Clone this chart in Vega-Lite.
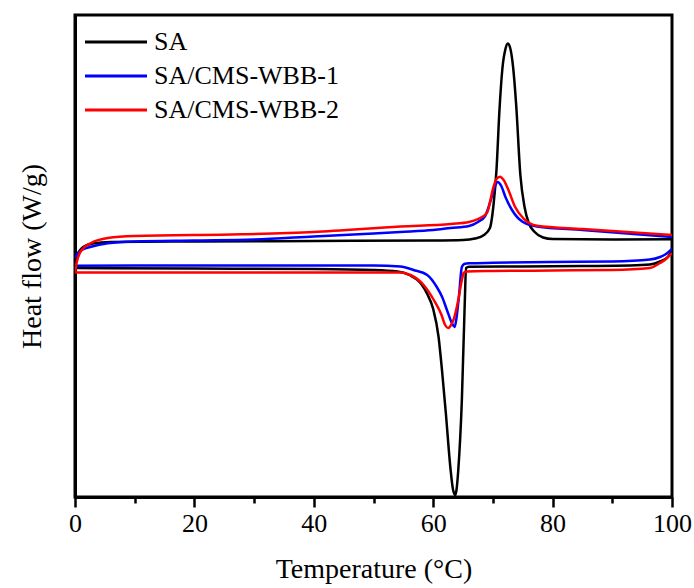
{
  "$schema": "https://vega.github.io/schema/vega-lite/v6.json",
  "width": 597,
  "height": 482,
  "autosize": {"type": "none"},
  "padding": {"left": 75, "top": 15, "right": 22, "bottom": 91},
  "config": {
    "font": "Liberation Serif",
    "view": {"stroke": "#000000", "strokeWidth": 3},
    "axis": {"grid": false}
  },
  "data": {"values": [
    {"s":"SA","b":"h","T":0,"H":230},{"s":"SA","b":"h","T":0.3,"H":240},{"s":"SA","b":"h","T":0.8,"H":246.5},{"s":"SA","b":"h","T":1.5,"H":250.5},{"s":"SA","b":"h","T":3,"H":253.5},{"s":"SA","b":"h","T":6,"H":255},{"s":"SA","b":"h","T":20,"H":255.5},{"s":"SA","b":"h","T":40,"H":256},{"s":"SA","b":"h","T":60,"H":256.5},{"s":"SA","b":"h","T":65,"H":257},{"s":"SA","b":"h","T":67,"H":258.5},{"s":"SA","b":"h","T":68.5,"H":262},{"s":"SA","b":"h","T":69.5,"H":269},{"s":"SA","b":"h","T":70.1,"H":292},{"s":"SA","b":"h","T":70.6,"H":327},{"s":"SA","b":"h","T":71.1,"H":387},{"s":"SA","b":"h","T":71.6,"H":429},{"s":"SA","b":"h","T":72.1,"H":448},{"s":"SA","b":"h","T":72.5,"H":453.5},{"s":"SA","b":"h","T":72.9,"H":449},{"s":"SA","b":"h","T":73.4,"H":429},{"s":"SA","b":"h","T":73.9,"H":392},{"s":"SA","b":"h","T":74.6,"H":322},{"s":"SA","b":"h","T":75.3,"H":290},{"s":"SA","b":"h","T":76,"H":274},{"s":"SA","b":"h","T":77,"H":265},{"s":"SA","b":"h","T":78.4,"H":259.5},{"s":"SA","b":"h","T":80,"H":258},{"s":"SA","b":"h","T":90,"H":257.6},{"s":"SA","b":"h","T":100,"H":257.8},
    {"s":"SA","b":"c","T":100,"H":246},{"s":"SA","b":"c","T":99.3,"H":240},{"s":"SA","b":"c","T":98,"H":235.5},{"s":"SA","b":"c","T":96.3,"H":232.5},{"s":"SA","b":"c","T":93,"H":231.5},{"s":"SA","b":"c","T":85,"H":231},{"s":"SA","b":"c","T":75,"H":230.5},{"s":"SA","b":"c","T":66,"H":230.2},{"s":"SA","b":"c","T":65.5,"H":229},{"s":"SA","b":"c","T":65.3,"H":197},{"s":"SA","b":"c","T":64.8,"H":97},{"s":"SA","b":"c","T":64.2,"H":27},{"s":"SA","b":"c","T":63.9,"H":7},{"s":"SA","b":"c","T":63.7,"H":2},{"s":"SA","b":"c","T":63.3,"H":8},{"s":"SA","b":"c","T":62.9,"H":28},{"s":"SA","b":"c","T":62.1,"H":85},{"s":"SA","b":"c","T":61.5,"H":125},{"s":"SA","b":"c","T":60.9,"H":160},{"s":"SA","b":"c","T":60,"H":188},{"s":"SA","b":"c","T":59,"H":203},{"s":"SA","b":"c","T":58,"H":213},{"s":"SA","b":"c","T":56,"H":222},{"s":"SA","b":"c","T":54,"H":225.5},{"s":"SA","b":"c","T":50,"H":227},{"s":"SA","b":"c","T":40,"H":228},{"s":"SA","b":"c","T":20,"H":228.5},{"s":"SA","b":"c","T":0,"H":229},
    {"s":"SA/CMS-WBB-1","b":"h","T":0,"H":239},{"s":"SA/CMS-WBB-1","b":"h","T":0.5,"H":244},{"s":"SA/CMS-WBB-1","b":"h","T":1.5,"H":248},{"s":"SA/CMS-WBB-1","b":"h","T":2.7,"H":250.3},{"s":"SA/CMS-WBB-1","b":"h","T":5.5,"H":253.7},{"s":"SA/CMS-WBB-1","b":"h","T":10,"H":255.5},{"s":"SA/CMS-WBB-1","b":"h","T":20,"H":256.5},{"s":"SA/CMS-WBB-1","b":"h","T":30,"H":257.5},{"s":"SA/CMS-WBB-1","b":"h","T":40,"H":260.5},{"s":"SA/CMS-WBB-1","b":"h","T":50,"H":263.5},{"s":"SA/CMS-WBB-1","b":"h","T":54.5,"H":265},{"s":"SA/CMS-WBB-1","b":"h","T":60,"H":267},{"s":"SA/CMS-WBB-1","b":"h","T":62.9,"H":269},{"s":"SA/CMS-WBB-1","b":"h","T":66,"H":271},{"s":"SA/CMS-WBB-1","b":"h","T":67.5,"H":275},{"s":"SA/CMS-WBB-1","b":"h","T":68.7,"H":281},{"s":"SA/CMS-WBB-1","b":"h","T":69.8,"H":300},{"s":"SA/CMS-WBB-1","b":"h","T":70.3,"H":310},{"s":"SA/CMS-WBB-1","b":"h","T":70.8,"H":315},{"s":"SA/CMS-WBB-1","b":"h","T":71.4,"H":311},{"s":"SA/CMS-WBB-1","b":"h","T":72.1,"H":300},{"s":"SA/CMS-WBB-1","b":"h","T":73.2,"H":287},{"s":"SA/CMS-WBB-1","b":"h","T":74.9,"H":275.5},{"s":"SA/CMS-WBB-1","b":"h","T":77.4,"H":270.5},{"s":"SA/CMS-WBB-1","b":"h","T":85,"H":267},{"s":"SA/CMS-WBB-1","b":"h","T":100,"H":260},
    {"s":"SA/CMS-WBB-1","b":"c","T":100,"H":248},{"s":"SA/CMS-WBB-1","b":"c","T":99,"H":243},{"s":"SA/CMS-WBB-1","b":"c","T":98,"H":240},{"s":"SA/CMS-WBB-1","b":"c","T":96.3,"H":237.5},{"s":"SA/CMS-WBB-1","b":"c","T":90,"H":235.5},{"s":"SA/CMS-WBB-1","b":"c","T":80,"H":235},{"s":"SA/CMS-WBB-1","b":"c","T":70,"H":234.2},{"s":"SA/CMS-WBB-1","b":"c","T":66,"H":233.7},{"s":"SA/CMS-WBB-1","b":"c","T":65.2,"H":233},{"s":"SA/CMS-WBB-1","b":"c","T":64.8,"H":230},{"s":"SA/CMS-WBB-1","b":"c","T":64.3,"H":200},{"s":"SA/CMS-WBB-1","b":"c","T":63.9,"H":179},{"s":"SA/CMS-WBB-1","b":"c","T":63.6,"H":170},{"s":"SA/CMS-WBB-1","b":"c","T":63.2,"H":173},{"s":"SA/CMS-WBB-1","b":"c","T":62.3,"H":187},{"s":"SA/CMS-WBB-1","b":"c","T":61.5,"H":200},{"s":"SA/CMS-WBB-1","b":"c","T":60.6,"H":210},{"s":"SA/CMS-WBB-1","b":"c","T":59,"H":222},{"s":"SA/CMS-WBB-1","b":"c","T":56.7,"H":227},{"s":"SA/CMS-WBB-1","b":"c","T":54.5,"H":230.5},{"s":"SA/CMS-WBB-1","b":"c","T":50,"H":231.5},{"s":"SA/CMS-WBB-1","b":"c","T":30,"H":231.5},{"s":"SA/CMS-WBB-1","b":"c","T":10,"H":231.5},{"s":"SA/CMS-WBB-1","b":"c","T":0,"H":231.3},
    {"s":"SA/CMS-WBB-2","b":"h","T":0,"H":225},{"s":"SA/CMS-WBB-2","b":"h","T":0.3,"H":235},{"s":"SA/CMS-WBB-2","b":"h","T":1,"H":246},{"s":"SA/CMS-WBB-2","b":"h","T":2.7,"H":254},{"s":"SA/CMS-WBB-2","b":"h","T":5.5,"H":259},{"s":"SA/CMS-WBB-2","b":"h","T":10,"H":261},{"s":"SA/CMS-WBB-2","b":"h","T":27.8,"H":262.7},{"s":"SA/CMS-WBB-2","b":"h","T":40,"H":265},{"s":"SA/CMS-WBB-2","b":"h","T":54.5,"H":270.5},{"s":"SA/CMS-WBB-2","b":"h","T":63,"H":273},{"s":"SA/CMS-WBB-2","b":"h","T":66,"H":275},{"s":"SA/CMS-WBB-2","b":"h","T":67.5,"H":278},{"s":"SA/CMS-WBB-2","b":"h","T":69,"H":284},{"s":"SA/CMS-WBB-2","b":"h","T":70.1,"H":310},{"s":"SA/CMS-WBB-2","b":"h","T":70.6,"H":318},{"s":"SA/CMS-WBB-2","b":"h","T":71.2,"H":320.3},{"s":"SA/CMS-WBB-2","b":"h","T":71.8,"H":317},{"s":"SA/CMS-WBB-2","b":"h","T":72.6,"H":307},{"s":"SA/CMS-WBB-2","b":"h","T":73.7,"H":290.3},{"s":"SA/CMS-WBB-2","b":"h","T":75.1,"H":278.7},{"s":"SA/CMS-WBB-2","b":"h","T":77.4,"H":271.3},{"s":"SA/CMS-WBB-2","b":"h","T":85,"H":268},{"s":"SA/CMS-WBB-2","b":"h","T":100,"H":262},
    {"s":"SA/CMS-WBB-2","b":"c","T":100,"H":244},{"s":"SA/CMS-WBB-2","b":"c","T":99,"H":238},{"s":"SA/CMS-WBB-2","b":"c","T":98,"H":234},{"s":"SA/CMS-WBB-2","b":"c","T":96.3,"H":229},{"s":"SA/CMS-WBB-2","b":"c","T":90,"H":227},{"s":"SA/CMS-WBB-2","b":"c","T":80,"H":226.5},{"s":"SA/CMS-WBB-2","b":"c","T":70,"H":226},{"s":"SA/CMS-WBB-2","b":"c","T":65.6,"H":225.5},{"s":"SA/CMS-WBB-2","b":"c","T":65.1,"H":224},{"s":"SA/CMS-WBB-2","b":"c","T":64.8,"H":217},{"s":"SA/CMS-WBB-2","b":"c","T":64.2,"H":197},{"s":"SA/CMS-WBB-2","b":"c","T":63.5,"H":179},{"s":"SA/CMS-WBB-2","b":"c","T":62.9,"H":171},{"s":"SA/CMS-WBB-2","b":"c","T":62.5,"H":169},{"s":"SA/CMS-WBB-2","b":"c","T":62,"H":172},{"s":"SA/CMS-WBB-2","b":"c","T":61.4,"H":182},{"s":"SA/CMS-WBB-2","b":"c","T":60.1,"H":197},{"s":"SA/CMS-WBB-2","b":"c","T":58.4,"H":212},{"s":"SA/CMS-WBB-2","b":"c","T":56.2,"H":222},{"s":"SA/CMS-WBB-2","b":"c","T":54.5,"H":224.5},{"s":"SA/CMS-WBB-2","b":"c","T":40,"H":224.5},{"s":"SA/CMS-WBB-2","b":"c","T":20,"H":224.5},{"s":"SA/CMS-WBB-2","b":"c","T":0,"H":224.5}
  ]},
  "mark": {"type": "line", "strokeWidth": 2.5, "interpolate": "monotone", "clip": true},
  "encoding": {
    "x": {
      "field": "T", "type": "quantitative",
      "scale": {"domain": [0, 100], "nice": false, "zero": false},
      "axis": {
        "title": "Temperature (°C)",
        "values": [0, 10, 20, 30, 40, 50, 60, 70, 80, 90, 100],
        "labelExpr": "datum.value % 20 === 0 ? datum.label : ''",
        "tickSize": {"condition": {"test": "datum.value % 20 === 0", "value": 10}, "value": 6},
        "tickWidth": 2.5, "tickColor": "#000000",
        "domainColor": "#000000", "domainWidth": 3,
        "labelFontSize": 26, "labelColor": "#000000", "labelPadding": 3, "labelFlush": false,
        "titleFontSize": 28, "titleFontWeight": "normal", "titleColor": "#000000", "titlePadding": 19
      }
    },
    "y": {
      "field": "H", "type": "quantitative",
      "scale": {"domain": [0, 482], "nice": false, "zero": false},
      "axis": {
        "title": "Heat flow (W/g)",
        "ticks": false, "labels": false,
        "domainColor": "#000000", "domainWidth": 3,
        "titleFontSize": 28, "titleFontWeight": "normal", "titleColor": "#000000", "titlePadding": 29
      }
    },
    "color": {
      "field": "s", "type": "nominal",
      "scale": {"domain": ["SA", "SA/CMS-WBB-1", "SA/CMS-WBB-2"], "range": ["#000000", "#0000ff", "#ff0000"]},
      "legend": {
        "title": null, "orient": "none", "legendX": 24, "legendY": 10,
        "symbolType": "M-2,0H2", "symbolSize": 961, "symbolStrokeWidth": 3, "symbolFillColor": "transparent",
        "labelFontSize": 26, "labelColor": "#000000", "labelOffset": 21, "labelLimit": 400, "rowPadding": 4
      }
    },
    "detail": {"field": "b", "type": "nominal"}
  }
}
